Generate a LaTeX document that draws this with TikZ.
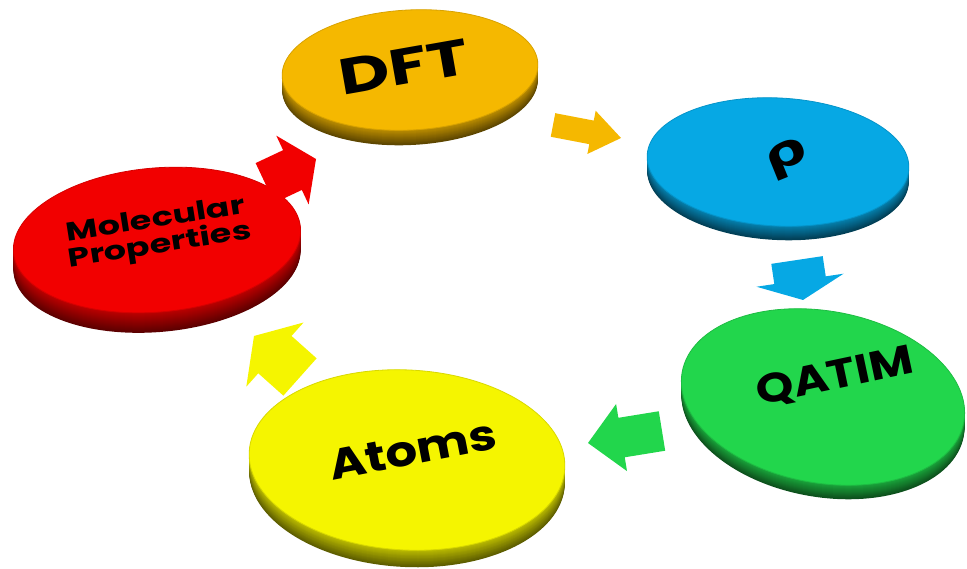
\documentclass[tikz,border=0pt]{standalone}
\usepackage{fontspec}
\setmainfont{Poppins}
\newfontfamily\greekfont{DejaVu Sans}
\usetikzlibrary{shapes.geometric,calc}

\definecolor{cRed}{RGB}{242,0,0}
\definecolor{cOrange}{RGB}{245,184,0}
\definecolor{cBlue}{RGB}{6,168,228}
\definecolor{cGreen}{RGB}{34,214,76}
\definecolor{cYellow}{RGB}{245,245,0}

% disc: name, centre, x radius, y radius, tilt, colour, rim thickness
\newcommand{\disc}[7]{%
  \foreach \d in {#7,...,1}{%
    \pgfmathtruncatemacro{\rimshade}{38+40*(#7-\d)/#7}
    \fill[#6!\rimshade!black, shift={($#2+(0,-\d)$)}, rotate=#5]
      (0,0) ellipse [x radius=#3, y radius=#4];
  }
  \node[face, fill=#6, draw=#6!88!black, minimum width=2*#3, minimum height=2*#4,
        rotate=#5] (#1) at #2 {};
}

% block arrow: from, to, colour, half shaft, half head, head length
\newcommand{\blockarrow}[6]{%
  \coordinate (bj) at ($(#2)!#6!(#1)$);
  \fill[#3] ($(#1)!#4!90:(#2)$) -- ($(bj)!#4!-90:(#1)$) -- ($(bj)!#5!-90:(#1)$)
    -- (#2) -- ($(bj)!#5!90:(#1)$) -- ($(bj)!#4!90:(#1)$) -- ($(#1)!#4!-90:(#2)$) -- cycle;
}

\begin{document}
\begin{tikzpicture}[x=1pt,y=1pt,
                    face/.style={ellipse,inner sep=0pt,outer sep=0pt,line width=0.8pt},
                    lbl/.style={font=\bfseries\fontsize{#1}{#1}\selectfont,text=black,inner sep=0pt}]
  \useasboundingbox (0,0) rectangle (967,569);

  % discs
  \disc{molprop}{(157,329)}{144}{72}{5}{cRed}{20}
  \disc{dft}{(410,499)}{128}{60}{3}{cOrange}{15}
  \disc{rho}{(778,407)}{131}{64}{-3}{cBlue}{14}
  \disc{qatim}{(823,172)}{143}{86}{-10}{cGreen}{14}
  \disc{atoms}{(407,109)}{158}{90}{-3}{cYellow}{17}

  % labels
  \node[lbl=35, align=center, rotate=9, yscale=0.74] (molproplbl) at (158,335)
    {\fontsize{35}{38}\selectfont Molecular\\Properties};
  \node[lbl=70, rotate=10, yscale=0.72] (dftlbl) at (404,502) {DFT};
  \node[lbl=60, font=\greekfont\bfseries\fontsize{60}{60}\selectfont, rotate=22, yscale=0.75]
    (rholbl) at (787,410) {ρ};
  \node[lbl=48, rotate=12, yscale=0.85] (qatimlbl) at (835,192) {QATIM};
  \node[lbl=50, rotate=11, yscale=0.85] (atomslbl) at (413,119) {Atoms};

  % arrows
  \coordinate (a1s) at (265,386); \coordinate (a1e) at (316,410);
  \coordinate (a2s) at (553,444); \coordinate (a2e) at (621,431);
  \coordinate (a3s) at (797,309); \coordinate (a3e) at (803,269);
  \coordinate (a4s) at (662,138); \coordinate (a4e) at (588,126);
  \coordinate (a5s) at (300,192); \coordinate (a5e) at (254,233);
  \blockarrow{a1s}{a1e}{cRed}{22pt}{38pt}{26pt}
  \blockarrow{a2s}{a2e}{cOrange}{12pt}{22pt}{30pt}
  \blockarrow{a3s}{a3e}{cBlue}{26pt}{44pt}{20pt}
  \blockarrow{a4s}{a4e}{cGreen}{20pt}{34pt}{34pt}
  \blockarrow{a5s}{a5e}{cYellow}{25pt}{43pt}{28pt}
\end{tikzpicture}
\end{document}
